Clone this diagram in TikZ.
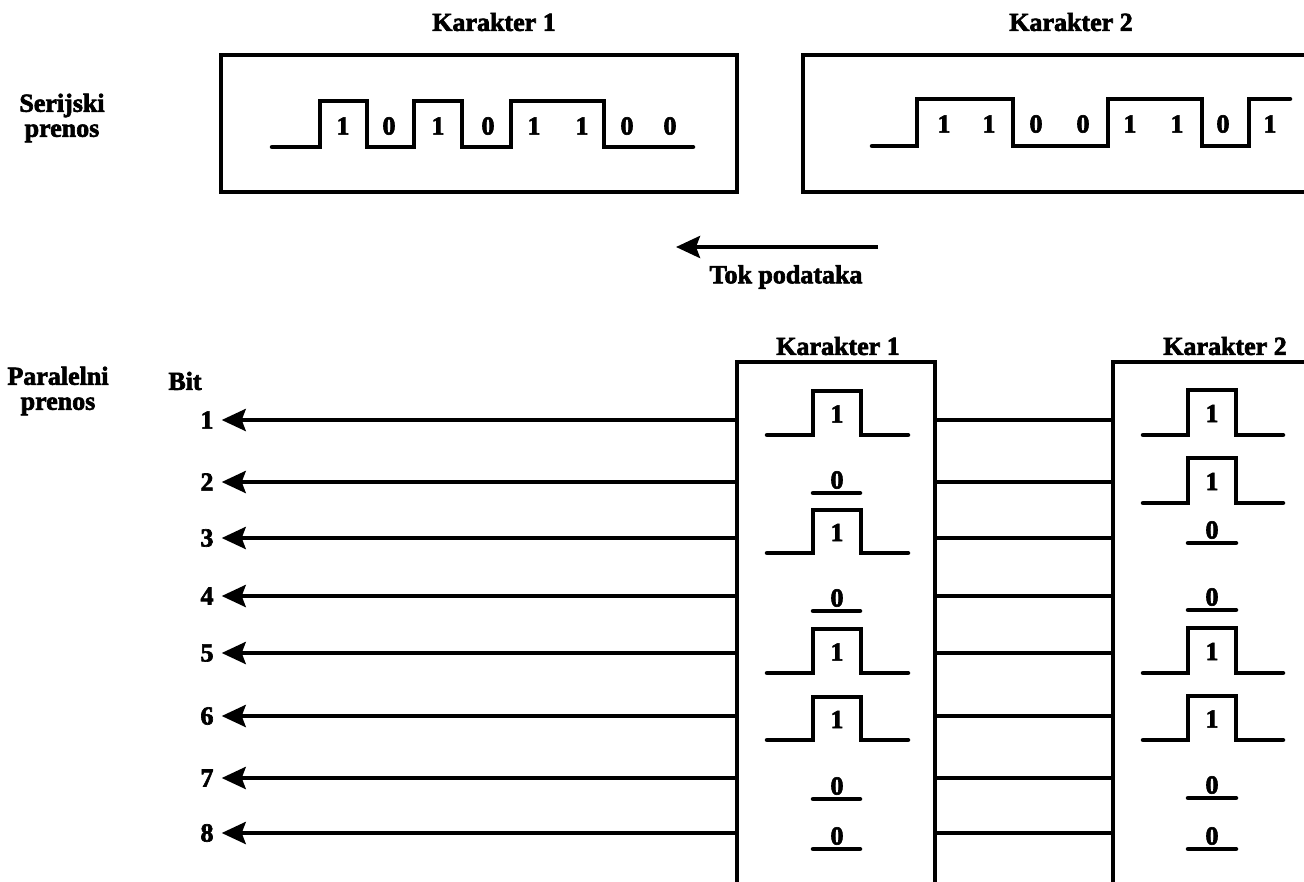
\documentclass[tikz,border=0pt]{standalone}
\usepackage{fontspec}
\setmainfont{Liberation Serif}[BoldFont={Liberation Serif Bold}, BoldFeatures={FakeBold=2.5}]
\usetikzlibrary{arrows.meta}
\begin{document}
\begin{tikzpicture}[x=1pt,y=-1pt,
  lbl/.style={font=\fontsize{26}{25}\selectfont\bfseries, inner sep=0pt, align=center},
  dig/.style={font=\fontsize{26}{24}\selectfont\bfseries, inner sep=0pt},
  bitn/.style={font=\fontsize{26}{24}\selectfont\bfseries, inner sep=0pt},
  frame/.style={draw, line width=4pt, inner sep=0pt, outer sep=0pt},
  wave/.style={line width=4.5pt, line cap=round, line join=miter},
  arr/.style={line width=4pt, -{Stealth[length=24pt,width=22pt,inset=4pt]}},
  link/.style={line width=4pt}]
\useasboundingbox (0,0) rectangle (1304,881);
\clip (0,0) rectangle (1304,881);

% ---------- serial ----------
\node[lbl] (t1) at (494,22) {Karakter 1};
\node[lbl] (t2) at (1071,22) {Karakter 2};
\node[lbl] (ser) at (62,118) {Serijski\\prenos};

\node[frame, minimum width=516pt, minimum height=137pt] (s1) at (479,123.5) {};
\node[frame, minimum width=516pt, minimum height=137pt] (s2) at (1061,123.5) {};

\draw[wave] (272,147) -- (320,147) -- (320,101) -- (367,101) -- (367,147)
  -- (414,147) -- (414,101) -- (462,101) -- (462,147) -- (511,147)
  -- (511,101) -- (604,101) -- (604,147) -- (693,147);
\foreach \x/\d/\n in {343/1/a,389/0/b,438/1/c,488/0/d,534/1/e,582/1/f,627/0/g,670/0/h}
  \node[dig] (s1d\n) at (\x,126) {\d};

\draw[wave] (872,146) -- (917,146) -- (917,99) -- (1013,99) -- (1013,146)
  -- (1108,146) -- (1108,99) -- (1202,99) -- (1202,146) -- (1249,146)
  -- (1249,99) -- (1290,99);
\foreach \x/\d/\n in {944/1/a,989/1/b,1036/0/c,1083/0/d,1130/1/e,1177/1/f,1223/0/g,1270/1/h}
  \node[dig] (s2d\n) at (\x,124) {\d};

\coordinate (tokS) at (878,247);
\coordinate (tokE) at (676,247);
\draw[arr] (tokS) -- (tokE);
\node[lbl] (tok) at (786,277) {Tok podataka};

% ---------- parallel ----------
\node[lbl] (par) at (58,391) {Paralelni\\prenos};
\node[lbl] (bit) at (185,381) {Bit};

\node[frame, minimum width=198pt, minimum height=538pt] (p1) at (836,631) {};
\node[frame, minimum width=198pt, minimum height=538pt] (p2) at (1212,631) {};
\node[lbl] (pt1) at (838,346) {Karakter 1};
\node[lbl] (pt2) at (1225,346) {Karakter 2};

\foreach \i/\y in {1/420,2/482,3/538,4/596,5/653,6/716,7/778,8/833}{
  \node[bitn, inner xsep=8pt] (b\i) at (207,\y) {\i};
  \coordinate (p1w\i) at (p1.west |- 0,\y);
  \coordinate (p1e\i) at (p1.east |- 0,\y);
  \coordinate (p2w\i) at (p2.west |- 0,\y);
  \draw[arr] (p1w\i) -- (b\i.east);
  \draw[link] (p1e\i) -- (p2w\i);
}

% Karakter 1 pulses and zeros
\foreach \i/\h/\l in {1/391/435,3/510/553,5/629/673,6/697/740}{
  \draw[wave] (767,\l) -- (813,\l) -- (813,\h) -- (861,\h) -- (861,\l) -- (908,\l);
  \node[dig] (k1d\i) at (837,{(\h+\l)/2+1}) {1};
}
\foreach \i/\y in {2/493,4/611,7/799,8/849}{
  \draw[wave] (813,\y) -- (860,\y);
  \node[dig] (k1d\i) at (837,\y-13) {0};
}
% Karakter 2 pulses and zeros
\foreach \i/\h/\l in {1/390/435,2/458/503,5/628/673,6/696/740}{
  \draw[wave] (1143,\l) -- (1188,\l) -- (1188,\h) -- (1236,\h) -- (1236,\l) -- (1283,\l);
  \node[dig] (k2d\i) at (1212,{(\h+\l)/2+1}) {1};
}
\foreach \i/\y in {3/543,4/610,7/798,8/849}{
  \draw[wave] (1188,\y) -- (1236,\y);
  \node[dig] (k2d\i) at (1212,\y-13) {0};
}
\end{tikzpicture}
\end{document}
